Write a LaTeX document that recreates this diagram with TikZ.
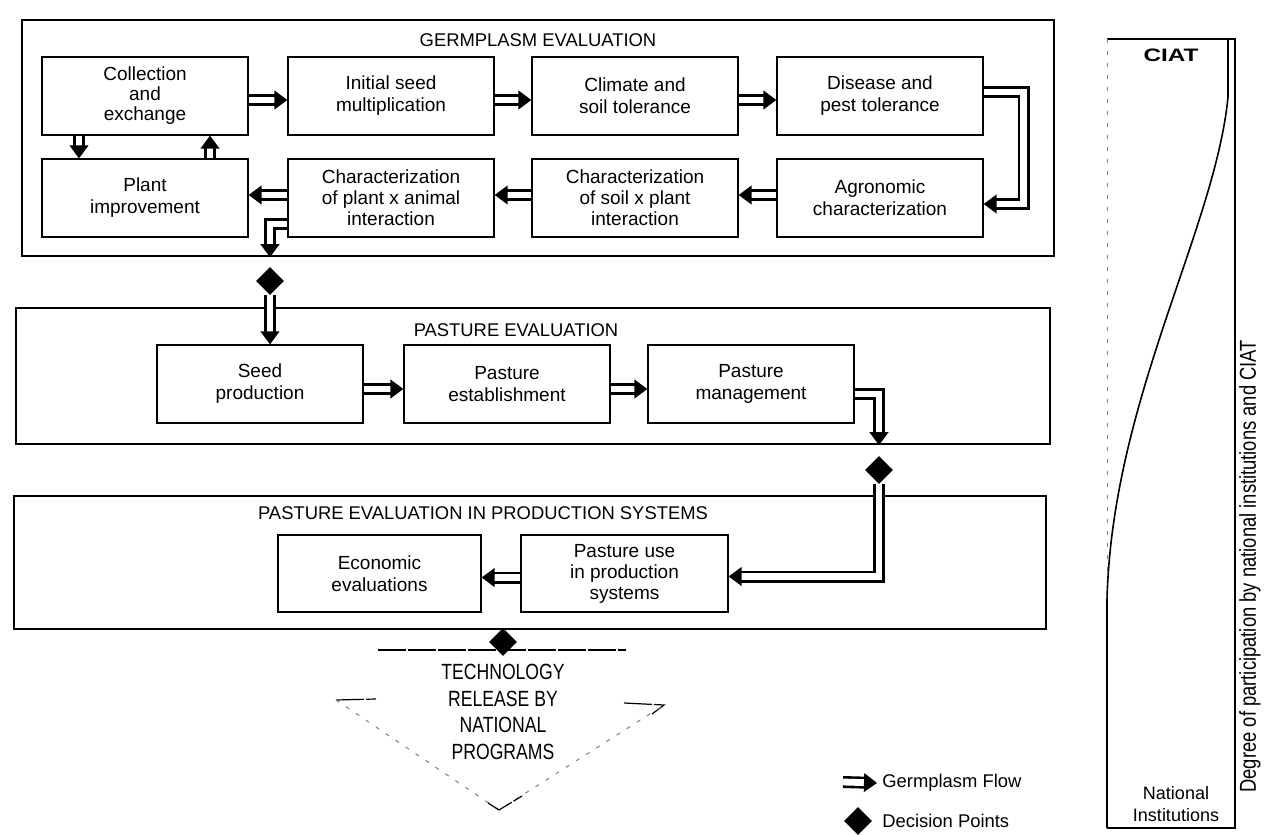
\documentclass[tikz,border=0pt]{standalone}
\usepackage{fontspec}
\setmainfont{Liberation Sans}
\newfontfamily\narrowfont{Liberation Sans}[FakeStretch=0.8]
\newfontfamily\widefont{Liberation Sans}[FakeStretch=1.35]
\usetikzlibrary{shapes.geometric,decorations.markings}
\begin{document}
\begin{tikzpicture}[x=0.5pt, y=-0.5pt,
  panel/.style={draw, line width=1.2pt, inner sep=0pt},
  stage/.style={draw, line width=0.65pt, minimum width=103pt, minimum height=39pt, align=center, font=\fontsize{9.5}{11}\selectfont},
  heading/.style={font=\fontsize{9.2}{11}\selectfont},
  keytext/.style={anchor=west, inner sep=2.5pt, font=\fontsize{9.2}{11}\selectfont},
  decision/.style={diamond, fill, inner sep=0pt, minimum size=14pt},
  flow/.style={double, double distance=3.4pt, line width=1.3pt, shorten >=5.5pt,
    postaction={decorate, decoration={markings, mark=at position 1 with {\fill (0pt,0pt) -- (-6.5pt,4.8pt) -- (-6.5pt,-4.8pt) -- cycle;}}}},
  rim/.style={line width=0.6pt, dash pattern=on 14pt off 1pt},
  faint/.style={gray, line width=0.5pt, dash pattern=on 2pt off 4pt}]
\useasboundingbox (0,0) rectangle (1265,835);
\node[panel, minimum width=516pt, minimum height=118pt] (germ) at (538,138) {};
\node[heading] (germtitle) at (538,40) {GERMPLASM EVALUATION};
\node[stage, font=\fontsize{9.5}{10}\selectfont] (col) at (145,96) {Collection\\and\\exchange};
\node[stage] (ini) at (391,96) {Initial seed\\multiplication};
\node[stage] (cli) at (635,96) {Climate and\\soil tolerance};
\node[stage] (dis) at (880,96) {Disease and\\pest tolerance};
\node[stage] (imp) at (145,198) {Plant\\improvement};
\node[stage, font=\fontsize{9.5}{10.5}\selectfont] (pla) at (391,198) {Characterization\\of plant x animal\\interaction};
\node[stage, font=\fontsize{9.5}{10.5}\selectfont] (soi) at (635,198) {Characterization\\of soil x plant\\interaction};
\node[stage] (agr) at (880,198) {Agronomic\\characterization};
\draw[flow] ([yshift=-2pt]col.east) -- ([yshift=-2pt]ini.west);
\draw[flow] ([yshift=-2pt]ini.east) -- ([yshift=-2pt]cli.west);
\draw[flow] ([yshift=-2pt]cli.east) -- ([yshift=-2pt]dis.west);
\draw[flow] ([yshift=2pt]dis.east) -- ++(40,0) |- ([yshift=-3pt]agr.east);
\draw[flow] ([yshift=1.5pt]agr.west) -- ([yshift=1.5pt]soi.east);
\draw[flow] ([yshift=1.5pt]soi.west) -- ([yshift=1.5pt]pla.east);
\draw[flow] ([yshift=1.5pt]pla.west) -- ([yshift=1.5pt]imp.east);
\draw[flow] ([xshift=-33pt]col.south) -- ([xshift=-33pt]imp.north);
\draw[flow] ([xshift=32.5pt]imp.north) -- ([xshift=32.5pt]col.south);
\node[decision] (dec1) at (270,281) {};
\draw[flow] ([yshift=-13pt]pla.west) -| (germ.south -| dec1);
\node[panel, minimum width=517pt, minimum height=68pt] (past) at (533,376) {};
\node[heading] (pasttitle) at (516,330) {PASTURE EVALUATION};
\node[stage] (see) at (260,384) {Seed\\production};
\node[stage] (est) at (507,384) {Pasture\\establishment};
\node[stage] (man) at (751,384) {Pasture\\management};
\draw[flow] (dec1.south) -- (dec1.south |- see.north);
\draw[flow] ([yshift=-2.5pt]see.east) -- ([yshift=-2.5pt]est.west);
\draw[flow] ([yshift=-2.5pt]est.east) -- ([yshift=-2.5pt]man.west);
\node[decision] (dec2) at (879,470) {};
\draw[flow] ([yshift=-5pt]man.east) -| (past.south -| dec2);
\node[panel, minimum width=516pt, minimum height=66.5pt] (prod) at (530,562.5) {};
\node[heading] (prodtitle) at (483,513) {PASTURE EVALUATION IN PRODUCTION SYSTEMS};
\node[stage, minimum width=101.5pt, minimum height=38.5pt] (eco) at (379.5,573.5) {Economic\\evaluations};
\node[stage, minimum width=103.5pt, minimum height=38.5pt, font=\fontsize{9.5}{10.5}\selectfont] (use) at (624.5,573.5) {Pasture use\\in production\\systems};
\draw[flow] (dec2.south) |- ([yshift=-1.5pt]use.east);
\draw[flow] ([yshift=-2pt]use.west) -- ([yshift=-2pt]eco.east);
\node[decision] (dec3) at (503,642) {};
\draw[rim] (378,650) -- (626,650);
\draw[rim] (336,700) -- (376,699);
\draw[rim] (624,703) -- (664,705) -- (652,714);
\draw[faint] (336,700) -- (499,810) -- (664,705);
\draw[rim] (488,803) -- (499,810) -- (522,796);
\node[align=center, font=\narrowfont\fontsize{11}{13.2}\selectfont] (tech) at (503,712) {TECHNOLOGY\\RELEASE BY\\NATIONAL\\PROGRAMS};
\coordinate (keyA) at (843,782);
\node[keytext] (keyflow) at (877,783) {Germplasm Flow};
\draw[flow] (keyA) -- (keyflow.west);
\node[decision] (keydec) at (858,821) {};
\node[keytext] (keydectxt) at (877,821) {Decision Points};
\draw[line width=0.9pt] (1107,39) -- (1235,39) -- (1235,828) -- (1107,828);
\draw[faint] (1107,39) -- (1107,600);
\draw[line width=0.8pt] (1228,39) -- (1228,97) .. controls (1215,230) and (1112,400) .. (1107,600) -- (1107,828);
\node[font=\widefont\bfseries\fontsize{9}{11}\selectfont] (ciat) at (1171,55) {CIAT};
\node[align=center, font=\fontsize{9}{11}\selectfont] (natinst) at (1176,804) {National\\Institutions};
\node[rotate=90, anchor=west, inner sep=0pt, font=\narrowfont\fontsize{11.5}{13}\selectfont] (degree) at (1250,793) {Degree of participation by national institutions and CIAT};
\end{tikzpicture}
\end{document}
